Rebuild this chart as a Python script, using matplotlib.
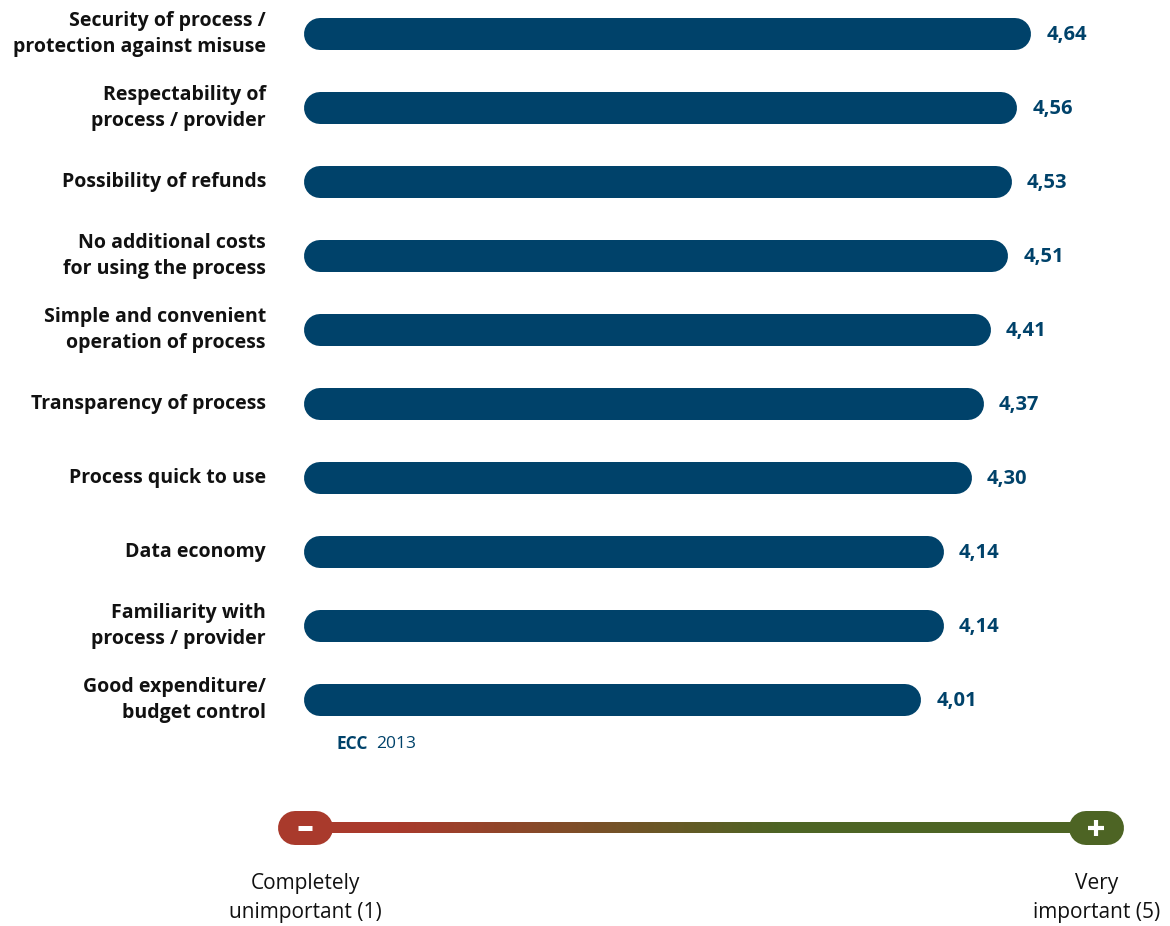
import numpy as np
import matplotlib
matplotlib.use("Agg")
import matplotlib.pyplot as plt
from matplotlib.colors import LinearSegmentedColormap

plt.rcParams["font.family"] = ["Open Sans", "DejaVu Sans"]

CATEGORIES = [
    "Security of process /\nprotection against misuse",
    "Respectability of\nprocess / provider",
    "Possibility of refunds",
    "No additional costs\nfor using the process",
    "Simple and convenient\noperation of process",
    "Transparency of process",
    "Process quick to use",
    "Data economy",
    "Familiarity with\nprocess / provider",
    "Good expenditure/\nbudget control",
]
SCORES = [4.64, 4.56, 4.53, 4.51, 4.41, 4.37, 4.30, 4.14, 4.14, 4.01]
VALUE_LABELS = ["4,64", "4,56", "4,53", "4,51", "4,41", "4,37", "4,30", "4,14", "4,14", "4,01"]

BLUE = "#00426A"
RED = "#A93A2C"
GREEN = "#4D6424"

W, H = 1170, 926
PX_PER_UNIT = 174.6
X0_PX = 221          # pixel position of value 0
ROW0_PX = 34         # pixel centre of first row
ROW_PX = 74          # pixel spacing between rows
BAR_START = (304 - X0_PX) / PX_PER_UNIT
BAR_H_PX = 32

fig = plt.figure(figsize=(W / 100, H / 100), dpi=100)
ax = fig.add_axes([0, 0, 1, 1])
ax.set_xlim(-X0_PX / PX_PER_UNIT, (W - X0_PX) / PX_PER_UNIT)
ax.set_ylim((H - ROW0_PX) / ROW_PX, -ROW0_PX / ROW_PX)
ax.axis("off")

# pixel distances -> data units
dx = 1 / PX_PER_UNIT
dy = 1 / ROW_PX


def px(x):
    return (x - X0_PX) * dx


def py(y):
    return (y - ROW0_PX) * dy


cap = (BAR_H_PX / 2) * dx
lw_pt = BAR_H_PX * 72 / 100

for i, (cat, val, lab) in enumerate(zip(CATEGORIES, SCORES, VALUE_LABELS)):
    ax.plot([BAR_START + cap, val - cap], [i, i], color=BLUE, lw=lw_pt,
            solid_capstyle="round")
    ax.text(val + 15 * dx, i + 1 * dy, lab, color=BLUE, fontsize=14.5,
            fontweight="bold", ha="left", va="center")
    ax.text(px(266), i, cat, color="#111111", fontsize=14,
            fontweight="bold", ha="right", va="center", linespacing=1.4)

ax.text(px(336), py(744), "ECC", color=BLUE, fontsize=12.5,
        fontweight="bold", ha="left", va="center")
ax.text(px(376), py(744), "2013", color=BLUE, fontsize=12.5,
        ha="left", va="center")

# importance scale at the bottom
scale_y = py(828)
cmap = LinearSegmentedColormap.from_list(
    "imp", [(0, RED), (0.12, RED), (0.6, GREEN), (1, GREEN)])
grad = np.linspace(0, 1, 400).reshape(1, -1)
ax.imshow(grad, cmap=cmap, aspect="auto",
          extent=[px(300), px(1100), scale_y + 5 * dy, scale_y - 5 * dy],
          zorder=1)

PILL_H = 34
PILL_W = 55
for cx_px, color in [(305, RED), (1096, GREEN)]:
    half = (PILL_W - PILL_H) / 2
    ax.plot([px(cx_px - half), px(cx_px + half)], [scale_y, scale_y],
            color=color, lw=PILL_H * 72 / 100, solid_capstyle="round", zorder=2)

# minus and plus signs
ax.plot([px(298), px(312)], [scale_y, scale_y], color="white", lw=3.6,
        solid_capstyle="butt", zorder=3)
ax.plot([px(1088), px(1104)], [scale_y, scale_y], color="white", lw=3.0,
        solid_capstyle="butt", zorder=3)
ax.plot([px(1096), px(1096)], [py(820), py(836)], color="white", lw=3.0,
        solid_capstyle="butt", zorder=3)

ax.text(px(305), py(898), "Completely\nunimportant (1)",
        color="#111111", fontsize=15, ha="center", va="center", linespacing=1.55)
ax.text(px(1097), py(898), "Very\nimportant (5)",
        color="#111111", fontsize=15, ha="center", va="center", linespacing=1.55)

fig.savefig("out.png", dpi=100, facecolor="white")
